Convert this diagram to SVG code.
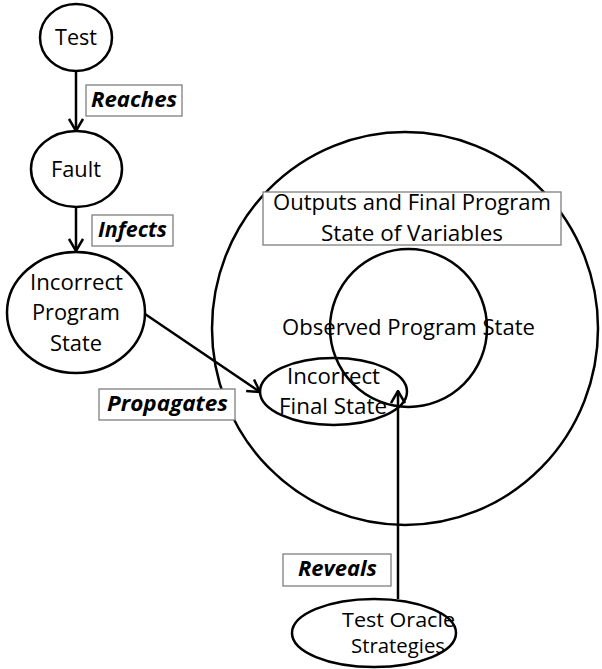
<svg xmlns="http://www.w3.org/2000/svg" width="602" height="669" viewBox="0 0 602 669">
<style>
.shape{fill:none;stroke:#000;stroke-width:2.5}
.conn{fill:none;stroke:#000;stroke-width:2.5}
.box{fill:#fff;stroke:#7f7f7f;stroke-width:1.3}
.t{font-family:"Open Sans","Liberation Sans",sans-serif;font-size:21px;fill:#000;text-anchor:middle}
.ts{font-size:19.5px}
.lbl{font-family:"Open Sans","Liberation Sans",sans-serif;font-size:21px;font-weight:bold;font-style:italic;fill:#000;text-anchor:middle}
</style>
<defs>
<marker id="arr" viewBox="0 0 14 16" refX="13" refY="8" markerWidth="14" markerHeight="16" markerUnits="userSpaceOnUse" orient="auto">
<path d="M1,1 L13,8 L1,15" fill="none" stroke="#000" stroke-width="2.5"/>
</marker>
</defs>
<g id="outputs-region">
<ellipse class="shape" cx="405" cy="328.5" rx="193" ry="196.5"/>
</g>
<g id="observed">
<ellipse class="shape" cx="408.5" cy="328" rx="78.5" ry="79"/>
<text class="t" x="408.5" y="335" textLength="253" lengthAdjust="spacingAndGlyphs">Observed Program State</text>
</g>
<g id="outputs-label">
<rect class="box" x="263" y="192" width="298" height="53"/>
<text class="t" x="412" y="210" textLength="278" lengthAdjust="spacingAndGlyphs">Outputs and Final Program</text>
<text class="t" x="412" y="241" textLength="182" lengthAdjust="spacingAndGlyphs">State of Variables</text>
</g>
<g id="test">
<ellipse class="shape" cx="76" cy="37.5" rx="36" ry="33.5"/>
<text class="t" x="76" y="45" textLength="42" lengthAdjust="spacingAndGlyphs">Test</text>
</g>
<g id="fault">
<ellipse class="shape" cx="76.5" cy="169" rx="45.5" ry="38"/>
<text class="t" x="76" y="177" textLength="50" lengthAdjust="spacingAndGlyphs">Fault</text>
</g>
<g id="incorrect-program-state">
<ellipse class="shape" cx="76" cy="312.5" rx="69" ry="60.5"/>
<text class="t" x="76.5" y="290" textLength="93" lengthAdjust="spacingAndGlyphs">Incorrect</text>
<text class="t" x="76" y="320" textLength="88" lengthAdjust="spacingAndGlyphs">Program</text>
<text class="t" x="76" y="351" textLength="52" lengthAdjust="spacingAndGlyphs">State</text>
</g>
<g id="incorrect-final-state">
<ellipse class="shape" cx="333.5" cy="391.5" rx="73.5" ry="33.5"/>
<text class="t" x="333.5" y="384" textLength="93" lengthAdjust="spacingAndGlyphs">Incorrect</text>
<text class="t" x="333" y="414" textLength="108" lengthAdjust="spacingAndGlyphs">Final State</text>
</g>
<g id="test-oracle">
<ellipse class="shape" cx="374" cy="633" rx="82" ry="34"/>
<text class="t ts" x="398.5" y="627" textLength="113" lengthAdjust="spacingAndGlyphs">Test Oracle</text>
<text class="t ts" x="398" y="653" textLength="94" lengthAdjust="spacingAndGlyphs">Strategies</text>
</g>
<g id="connectors">
<line class="conn" x1="76" y1="71" x2="76" y2="131" marker-end="url(#arr)"/>
<line class="conn" x1="76" y1="207" x2="76" y2="251" marker-end="url(#arr)"/>
<line class="conn" x1="145" y1="314" x2="260" y2="392" marker-end="url(#arr)"/>
<line class="conn" x1="398" y1="599" x2="398" y2="391" marker-end="url(#arr)"/>
</g>
<g id="labels">
<rect class="box" x="86" y="85" width="96" height="31"/>
<text class="lbl" x="134" y="107" textLength="86" lengthAdjust="spacingAndGlyphs">Reaches</text>
<rect class="box" x="92" y="215" width="81" height="31"/>
<text class="lbl" x="132.5" y="237" textLength="69" lengthAdjust="spacingAndGlyphs">Infects</text>
<rect class="box" x="99" y="389" width="136" height="31"/>
<text class="lbl" x="167.5" y="411" textLength="121" lengthAdjust="spacingAndGlyphs">Propagates</text>
<rect class="box" x="283" y="554" width="108" height="32"/>
<text class="lbl" x="337.5" y="576" textLength="79" lengthAdjust="spacingAndGlyphs">Reveals</text>
</g>
</svg>
